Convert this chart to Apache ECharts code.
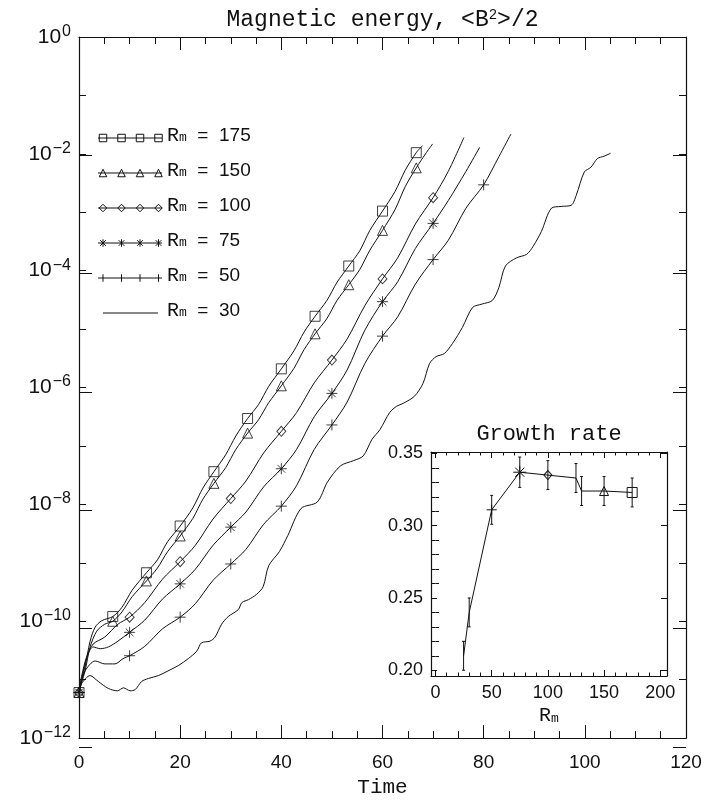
<!DOCTYPE html>
<html>
<head>
<meta charset="utf-8">
<script src="https://cdn.jsdelivr.net/npm/echarts@6/dist/echarts.min.js"></script>
<style>
  html, body { margin: 0; padding: 0; background: #fff; }
  #chart { width: 705px; height: 803px; }
</style>
</head>
<body>
<div id="chart"></div>
<script>
// Magnetic energy <B^2>/2 against time, one curve per magnetic Reynolds number.
// Each entry is [time, log10(energy)].
const rm175 = [[0,-11.22],[0.5,-11.0],[1.2,-10.78],[2.2,-10.34],[3.2,-10.10],[4.5,-9.99],[6.67,-9.92],[8.5,-9.76],[10.5,-9.47],[13.33,-9.17],[15.5,-8.95],[17.5,-8.64],[20,-8.37],[22.5,-8.06],[24.5,-7.72],[26.67,-7.44],[29,-7.15],[31,-6.83],[33.33,-6.53],[35.5,-6.29],[37.5,-5.98],[40,-5.68],[42.5,-5.37],[44.5,-5.05],[46.67,-4.78],[49,-4.51],[51,-4.20],[53.33,-3.92],[55.5,-3.66],[57.5,-3.31],[60,-2.98],[62.5,-2.64],[64.5,-2.28],[66.67,-1.98],[67.9,-1.86]];
const rm150 = [[0,-11.22],[0.5,-11.05],[1.2,-10.85],[2.2,-10.44],[3.5,-10.17],[5.1,-10.05],[6.67,-10.00],[8.5,-9.84],[10.5,-9.58],[13.33,-9.31],[15.5,-9.09],[17.5,-8.81],[20,-8.54],[22.5,-8.24],[24.5,-7.91],[26.67,-7.64],[29,-7.37],[31,-7.06],[33.33,-6.78],[35.5,-6.55],[37.5,-6.26],[40,-5.97],[42.5,-5.67],[44.5,-5.35],[46.67,-5.08],[49,-4.82],[51,-4.51],[53.33,-4.24],[55.5,-3.98],[57.5,-3.65],[60,-3.31],[62.5,-2.95],[64.5,-2.56],[66.67,-2.24],[68.5,-2.00],[69.9,-1.83]];
const rm100 = [[0,-11.22],[0.5,-10.95],[1.5,-10.61],[2.8,-10.39],[5.1,-10.27],[7.7,-10.05],[10,-9.93],[13,-9.68],[16.5,-9.28],[20,-8.98],[23,-8.70],[26.5,-8.25],[30,-7.90],[33,-7.60],[36.5,-7.12],[40,-6.75],[43,-6.43],[46.5,-5.92],[50,-5.53],[53,-5.17],[56.5,-4.60],[60,-4.14],[63,-3.78],[66.5,-3.20],[70,-2.75],[73,-2.30],[76.1,-1.72]];
const rm75 = [[0,-11.22],[0.6,-10.95],[1.8,-10.56],[2.8,-10.44],[4.2,-10.47],[5.8,-10.44],[7.7,-10.34],[10,-10.19],[13,-9.98],[16.5,-9.62],[20,-9.36],[23,-9.11],[26.5,-8.70],[30,-8.39],[33,-8.13],[36.5,-7.70],[40,-7.39],[43,-7.06],[46.5,-6.50],[50,-6.10],[53,-5.70],[56.5,-5.02],[60,-4.53],[63,-4.19],[66.5,-3.62],[70,-3.19],[73,-2.80],[76.5,-2.30],[79.2,-1.89]];
const rm50 = [[0,-11.22],[0.5,-11.05],[1.2,-10.85],[3.2,-10.68],[5.1,-10.73],[7.1,-10.73],[8.7,-10.64],[10,-10.59],[13,-10.43],[16.5,-10.13],[20,-9.93],[23,-9.70],[26.5,-9.30],[30,-9.02],[33,-8.77],[36.5,-8.34],[40,-8.03],[43,-7.68],[46.5,-7.06],[50,-6.64],[53,-6.25],[56.5,-5.59],[60,-5.12],[63,-4.79],[66.5,-4.23],[70,-3.81],[73,-3.48],[76.5,-2.93],[80,-2.53],[83,-2.05],[85.4,-1.66]];
const rm30 = [[0,-11.22],[0.5,-11.07],[2.2,-10.93],[3.8,-11.03],[5.8,-11.15],[7.6,-11.19],[8.8,-11.14],[10.1,-11.19],[11.1,-11.17],[12.4,-11.03],[13.7,-10.98],[15.7,-10.93],[17.6,-10.85],[19.6,-10.76],[21.6,-10.64],[23.3,-10.51],[24.2,-10.37],[25.9,-10.34],[26.9,-10.27],[28.2,-10.05],[29.5,-9.92],[31.5,-9.80],[32.2,-9.68],[33.5,-9.63],[35.1,-9.54],[36.4,-9.41],[37.5,-9.05],[39.6,-8.81],[41.3,-8.53],[43.9,-8.07],[47.1,-7.96],[49.1,-7.62],[51.7,-7.34],[54.3,-7.25],[56.2,-7.17],[57.9,-6.89],[59.5,-6.72],[61.4,-6.43],[62.8,-6.32],[64.1,-6.27],[66.3,-6.15],[68.0,-5.93],[69.3,-5.59],[70.6,-5.47],[72.2,-5.42],[73.8,-5.25],[75.8,-4.97],[77.8,-4.63],[79.7,-4.57],[81.7,-4.51],[83.0,-4.29],[84.3,-3.92],[86.5,-3.78],[88.5,-3.72],[89.8,-3.58],[91.4,-3.33],[93.4,-2.93],[95.3,-2.90],[97.3,-2.88],[98.3,-2.71],[99.9,-2.31],[101.2,-2.23],[102.5,-2.08],[103.8,-2.04],[105.1,-1.99]];

// Times at which each curve carries its plot symbol.
const marks175 = [0,6.67,13.33,20,26.67,33.33,40,46.67,53.33,60,66.67];
const marks150 = [0,6.67,13.33,20,26.67,33.33,40,46.67,53.33,60,66.67];
const marks100 = [0,10,20,30,40,50,60,70];
const marks75 = [0,10,20,30,40,50,60,70];
const marks50 = [0,10,20,30,40,50,60,70,80];

// Growth rate against Rm (inset).
const rmRuns = [25,30,50,75,100,125,130,150,175];
const growthRate = [0.210,0.240,0.311,0.337,0.335,0.333,0.324,0.324,0.323];
const growthErr = [0.010,0.010,0.010,0.0105,0.010,0.010,0.010,0.010,0.010];

// Axis ticks
const insetRmTicks = [0,50,100,150,200];
const insetRmMinor = [10,20,30,40,60,70,80,90,110,120,130,140,160,170,180,190];
const insetRateTicks = [0.20,0.25,0.30,0.35];
const insetRateMinor = [0.21,0.22,0.23,0.24,0.26,0.27,0.28,0.29,0.31,0.32,0.33,0.34];

const INK = '#111';
const NUM_FONT = "'Liberation Sans', Arial, sans-serif";
const TXT_FONT = "'Liberation Mono', 'DejaVu Sans Mono', monospace";

const STAR = 'path://M5,0L5,10M0,5L10,5M1.5,1.5L8.5,8.5M8.5,1.5L1.5,8.5';
const PLUS = 'path://M5,0L5,10M0,5L10,5';

const toEnergy = pairs => pairs.map(p => [p[0], Math.pow(10, p[1])]);
const pickMarks = (pairs, times) => times.map(t => {
  const p = pairs.find(q => Math.abs(q[0] - t) < 1e-6);
  return [p[0], Math.pow(10, p[1])];
});

const curves = [
  { name: '175', data: rm175, marks: marks175, symbol: 'rect', size: 10 },
  { name: '150', data: rm150, marks: marks150, symbol: 'triangle', size: 10 },
  { name: '100', data: rm100, marks: marks100, symbol: 'diamond', size: [9, 10] },
  { name: '75', data: rm75, marks: marks75, symbol: STAR, size: 11 },
  { name: '50', data: rm50, marks: marks50, symbol: PLUS, size: 11 },
  { name: '30', data: rm30, marks: null, symbol: null, size: 0 }
];

const hollow = { color: 'rgba(0,0,0,0)', borderColor: INK, borderWidth: 1 };

const series = [];
curves.forEach(c => {
  series.push({
    name: 'Rm ' + c.name, type: 'line', xAxisIndex: 0, yAxisIndex: 0,
    data: toEnergy(c.data), showSymbol: false, smooth: 0.3,
    lineStyle: { color: INK, width: 1 }, z: 3, silent: true
  });
  if (c.marks) {
    series.push({
      name: 'Rm ' + c.name + ' marks', type: 'scatter', xAxisIndex: 0, yAxisIndex: 0,
      data: pickMarks(c.data, c.marks), symbol: c.symbol, symbolSize: c.size,
      itemStyle: hollow, z: 4, silent: true
    });
  }
});

// inset: growth rate line with symbols
const insetSymbol = { 50: [PLUS, 10], 75: [STAR, 13], 100: ['diamond', [8, 9]], 150: ['triangle', 9], 175: ['rect', 10] };
series.push({
  name: 'growth', type: 'line', xAxisIndex: 3, yAxisIndex: 4,
  data: rmRuns.map((r, i) => {
    const s = insetSymbol[r];
    return s ? { value: [r, growthRate[i]], symbol: s[0], symbolSize: s[1] }
             : { value: [r, growthRate[i]], symbol: 'none' };
  }),
  showAllSymbol: true, lineStyle: { color: INK, width: 1 }, itemStyle: hollow, z: 5, silent: true
});
series.push({
  name: 'growth error', type: 'custom', xAxisIndex: 3, yAxisIndex: 4,
  data: rmRuns.map((r, i) => [r, growthRate[i], growthErr[i]]),
  encode: { x: 0, y: 1 }, silent: true, z: 5,
  renderItem: (params, api) => {
    const x = api.value(0), y = api.value(1), e = api.value(2);
    const hi = api.coord([x, y + e]);
    const lo = api.coord([x, y - e]);
    const st = { stroke: INK, lineWidth: 1 };
    return { type: 'group', children: [
      { type: 'line', shape: { x1: hi[0], y1: hi[1], x2: lo[0], y2: lo[1] }, style: st },
      { type: 'line', shape: { x1: hi[0] - 1.5, y1: hi[1], x2: hi[0] + 1.5, y2: hi[1] }, style: st },
      { type: 'line', shape: { x1: lo[0] - 1.5, y1: lo[1], x2: lo[0] + 1.5, y2: lo[1] }, style: st }
    ]};
  }
});

// ---------- axes ----------
const tickLine = { color: INK, width: 1 };
const boxLine = { show: true, onZero: false, lineStyle: { color: INK, width: 1.2 } };
const noLine = { show: false };

function expLabel(v) {
  const e = Math.round(Math.log10(v));
  if (e % 2 !== 0) return '';
  return '{b|10}{e|' + (e === 0 ? '0' : '\u2212' + (-e)) + '}';
}
const expRich = {
  b: { fontSize: 21, fontFamily: NUM_FONT, color: INK },
  e: { fontSize: 16, fontFamily: NUM_FONT, color: INK, padding: [0, 0, 11, 1] }
};

const timeAxis = (pos, labels) => ({
  gridIndex: 0, type: 'value', position: pos, min: 0, max: 120, interval: 20,
  axisLine: boxLine, splitLine: { show: false },
  axisTick: { show: true, inside: true, length: 13, lineStyle: tickLine },
  minorTick: { show: true, splitNumber: 4, length: 7, lineStyle: tickLine },
  axisLabel: labels ? { show: true, margin: 15, fontSize: 19, fontFamily: NUM_FONT, color: INK } : { show: false },
  name: labels ? 'Time' : '', nameLocation: 'middle', nameGap: 37,
  nameTextStyle: { fontSize: 21, fontFamily: TXT_FONT, color: INK }
});

const energyAxis = (grid, pos, interval, len, line, labels) => ({
  gridIndex: grid, type: 'log', logBase: 10, position: pos, min: 1e-12, max: 1, interval: interval,
  axisLine: line ? boxLine : noLine, splitLine: { show: false },
  axisTick: { show: true, inside: true, length: len, lineStyle: tickLine },
  axisLabel: labels ? { show: true, margin: 8, formatter: expLabel, rich: expRich, showMinLabel: true, showMaxLabel: true } : { show: false }
});

const rmAxis = (grid, pos, ticks, len, line, labels) => ({
  gridIndex: grid, type: 'value', position: pos, min: -4, max: 206,
  axisLine: line ? boxLine : noLine, splitLine: { show: false },
  axisTick: { show: true, inside: true, length: len, customValues: ticks, lineStyle: tickLine },
  axisLabel: labels ? { show: true, customValues: insetRmTicks, margin: 8, fontSize: 18, fontFamily: NUM_FONT, color: INK } : { show: false },
  name: labels ? '{r|R}{s|m}' : '', nameLocation: 'middle', nameGap: 30,
  nameTextStyle: { rich: {
    r: { fontSize: 20, fontFamily: TXT_FONT, color: INK, padding: [0, 0, 5, 0] },
    s: { fontSize: 13, fontFamily: TXT_FONT, color: INK }
  } }
});

const rateAxis = (grid, pos, ticks, len, line, labels) => ({
  gridIndex: grid, type: 'value', position: pos, min: 0.196, max: 0.351,
  axisLine: line ? boxLine : noLine, splitLine: { show: false },
  axisTick: { show: true, inside: true, length: len, customValues: ticks, lineStyle: tickLine },
  axisLabel: labels ? { show: true, customValues: insetRateTicks, margin: 8, fontSize: 18, fontFamily: NUM_FONT, color: INK,
                         formatter: v => v.toFixed(2) } : { show: false }
});

const mainBox = { left: 79, top: 37, width: 607, height: 710 };
const insetBox = { left: 431, top: 452, width: 236, height: 224 };

// ---------- legend and titles ----------
function glyph(kind, cx, cy, s) {
  const h = s / 2;
  const st = { stroke: INK, lineWidth: 1, fill: 'none' };
  const seg = (x1, y1, x2, y2) => ({ type: 'line', shape: { x1, y1, x2, y2 }, style: st, silent: true });
  if (kind === 'rect') return [{ type: 'rect', shape: { x: cx - h, y: cy - h, width: s, height: s }, style: st, silent: true }];
  if (kind === 'triangle') return [{ type: 'polygon', shape: { points: [[cx, cy - h], [cx + h, cy + h], [cx - h, cy + h]] }, style: st, silent: true }];
  if (kind === 'diamond') return [{ type: 'polygon', shape: { points: [[cx, cy - h], [cx + h, cy], [cx, cy + h], [cx - h, cy]] }, style: st, silent: true }];
  if (kind === STAR) {
    const d = h * 0.75;
    return [seg(cx, cy - h, cx, cy + h), seg(cx - d, cy - d, cx + d, cy + d), seg(cx + d, cy - d, cx - d, cy + d)];
  }
  if (kind === PLUS) return [seg(cx, cy - h, cx, cy + h)];
  return [];
}

const legendItems = [];
curves.forEach((c, i) => {
  const y = 138 + i * 35;
  const x0 = c.symbol ? 98 : 103, x1 = c.symbol ? 162 : 158;
  legendItems.push({ type: 'line', shape: { x1: x0, y1: y, x2: x1, y2: y }, style: { stroke: INK, lineWidth: 1 }, silent: true });
  if (c.symbol) {
    [103, 121.5, 140, 158.5].forEach(x => glyph(c.symbol, x, y, 7.5).forEach(g => legendItems.push(g)));
  }
  legendItems.push({
    type: 'text', x: 167, y: y, silent: true,
    style: {
      text: '{r|R}{s|m}{t|  =  ' + c.name + '}',
      verticalAlign: 'middle', align: 'left',
      rich: {
        r: { fontSize: 20, fontFamily: TXT_FONT, fill: INK, padding: [0, 0, 5, 0] },
        s: { fontSize: 13, fontFamily: TXT_FONT, fill: INK },
        t: { fontSize: 19, fontFamily: NUM_FONT, fill: INK, padding: [0, 0, 5, 0] }
      }
    }
  });
});

const titles = [
  { type: 'text', x: 382.5, y: 20, silent: true,
    style: { text: '{a|Magnetic energy, <B}{s|2}{a|>/2}', align: 'center', verticalAlign: 'middle',
      rich: {
        a: { fontSize: 23, fontFamily: TXT_FONT, fill: INK },
        s: { fontSize: 14, fontFamily: TXT_FONT, fill: INK, padding: [0, 0, 10, 0] }
      } } },
  { type: 'text', x: 549, y: 434, silent: true,
    style: { text: 'Growth rate', fontSize: 22, fontFamily: TXT_FONT, fill: INK, align: 'center', verticalAlign: 'middle' } }
];

const chart = echarts.init(document.getElementById('chart'), null, { renderer: 'canvas' });
chart.setOption({
  backgroundColor: '#fff',
  animation: false,
  grid: [
    Object.assign({ containLabel: false }, mainBox),
    Object.assign({ containLabel: false }, mainBox),
    Object.assign({ containLabel: false }, insetBox),
    Object.assign({ containLabel: false }, insetBox)
  ],
  xAxis: [
    timeAxis('bottom', true),
    timeAxis('top', false),
    { gridIndex: 1, type: 'value', min: 0, max: 120, show: false },
    rmAxis(2, 'bottom', insetRmTicks, 6, true, true),
    rmAxis(2, 'top', insetRmTicks, 6, true, false),
    rmAxis(3, 'bottom', insetRmMinor, 3.5, false, false),
    rmAxis(3, 'top', insetRmMinor, 3.5, false, false)
  ],
  yAxis: [
    energyAxis(0, 'left', 1, 7, true, true),
    energyAxis(0, 'right', 1, 7, true, false),
    energyAxis(1, 'left', 2, 13, false, false),
    energyAxis(1, 'right', 2, 13, false, false),
    rateAxis(2, 'left', insetRateTicks, 6, true, true),
    rateAxis(2, 'right', insetRateTicks, 6, true, false),
    rateAxis(3, 'left', insetRateMinor, 3.5, false, false),
    rateAxis(3, 'right', insetRateMinor, 3.5, false, false)
  ],
  series: series,
  graphic: titles.concat(legendItems)
});
</script>
</body>
</html>
